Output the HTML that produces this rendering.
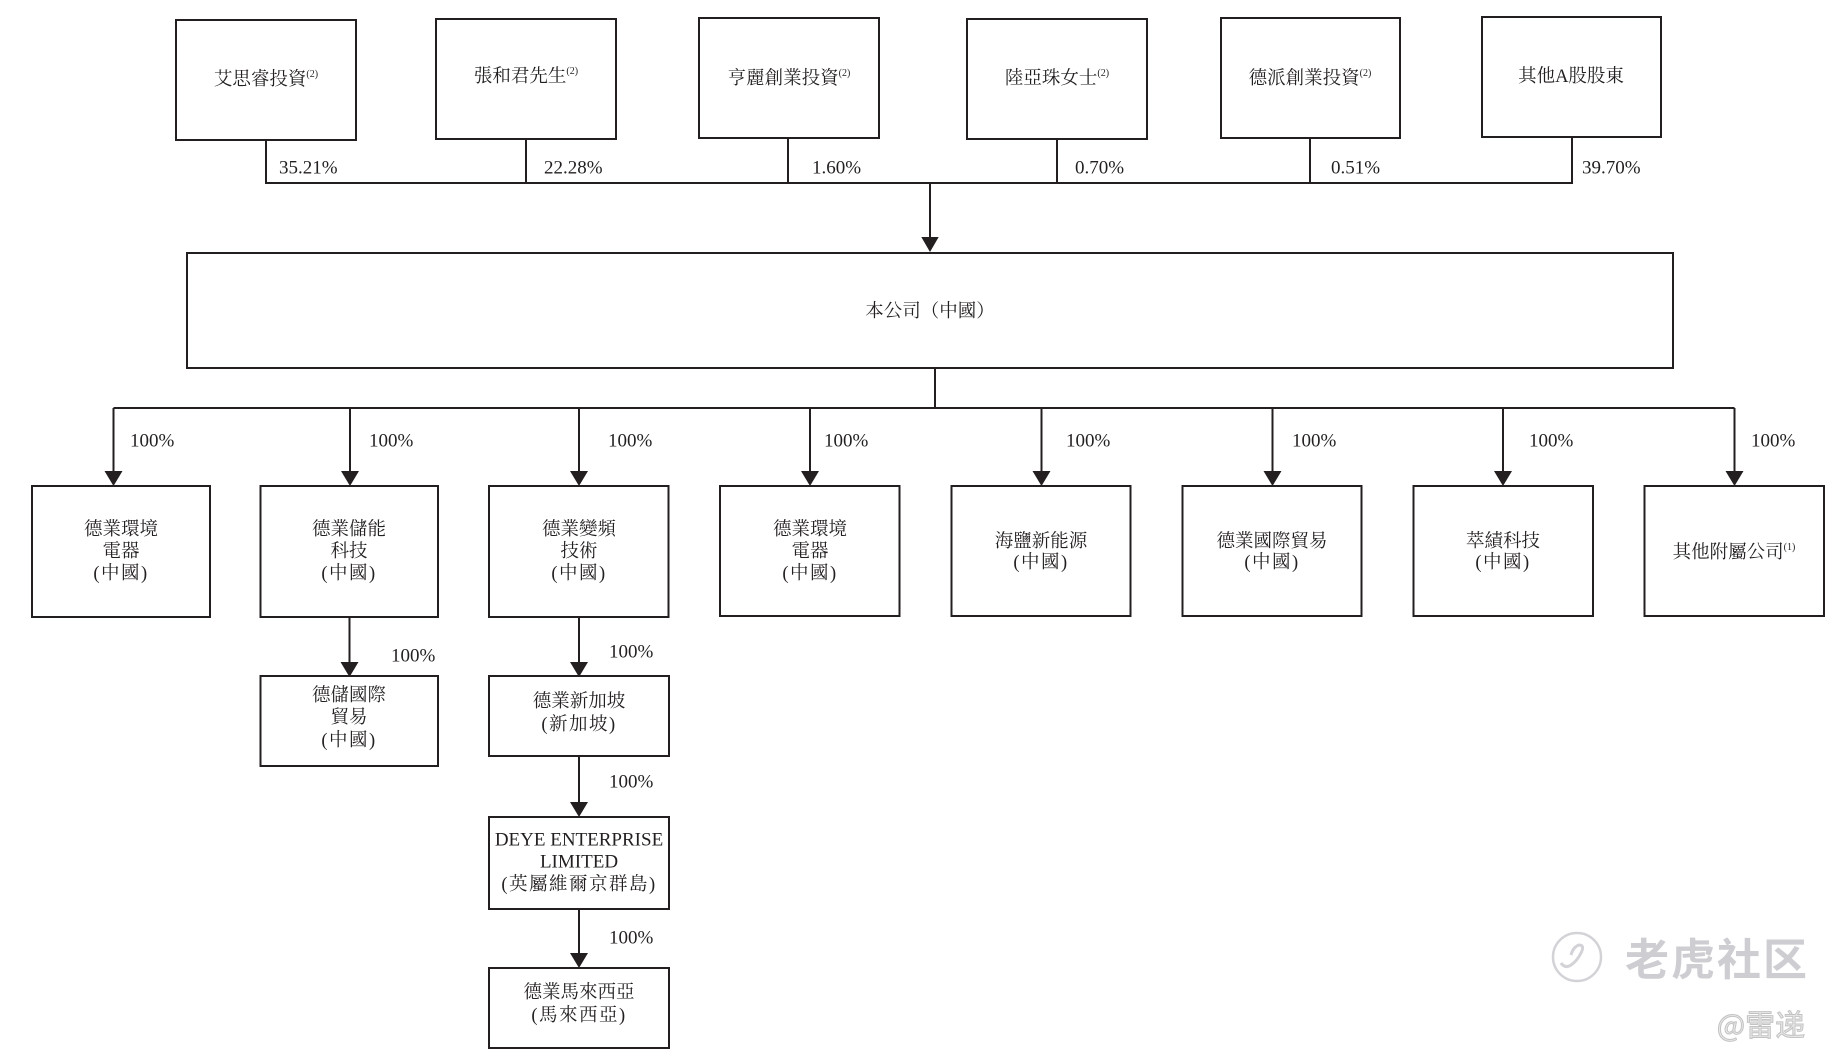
<!DOCTYPE html>
<html>
<head>
<meta charset="utf-8">
<style>
  html,body{margin:0;padding:0;background:#fff;}
  svg{display:block;}
  .t{font-family:"Liberation Serif","Noto Serif CJK SC",serif;fill:#231f20;font-size:18.5px;}
  .p{font-family:"Liberation Serif",serif;fill:#231f20;font-size:19px;}
  .par{letter-spacing:1.5px;}
</style>
</head>
<body>
<svg width="1844" height="1062" viewBox="0 0 1844 1062" xmlns="http://www.w3.org/2000/svg">
  <rect x="0" y="0" width="1844" height="1062" fill="#fff"/>
  <g fill="none" stroke="#231f20" stroke-width="2">
    <rect x="176" y="20" width="180" height="120"/>
    <rect x="436" y="19" width="180" height="120"/>
    <rect x="699" y="18" width="180" height="120"/>
    <rect x="967" y="19" width="180" height="120"/>
    <rect x="1221" y="18" width="179" height="120"/>
    <rect x="1482" y="17" width="179" height="120"/>
    <line x1="266" y1="140" x2="266" y2="183"/>
    <line x1="526" y1="139" x2="526" y2="183"/>
    <line x1="788" y1="138" x2="788" y2="183"/>
    <line x1="1057" y1="139" x2="1057" y2="183"/>
    <line x1="1310" y1="138" x2="1310" y2="183"/>
    <line x1="1572" y1="137" x2="1572" y2="183"/>
    <line x1="265" y1="183" x2="1573" y2="183"/>
    <line x1="930" y1="183" x2="930" y2="240"/>
    <rect x="187" y="253" width="1486" height="115"/>
    <line x1="935" y1="368" x2="935" y2="408"/>
    <line x1="113.5" y1="408" x2="1734.5" y2="408"/>
    <line x1="113.5" y1="408" x2="113.5" y2="474"/>
    <line x1="350" y1="408" x2="350" y2="474"/>
    <line x1="579" y1="408" x2="579" y2="474"/>
    <line x1="810" y1="408" x2="810" y2="474"/>
    <line x1="1041.5" y1="408" x2="1041.5" y2="474"/>
    <line x1="1272.5" y1="408" x2="1272.5" y2="474"/>
    <line x1="1503" y1="408" x2="1503" y2="474"/>
    <line x1="1734.5" y1="408" x2="1734.5" y2="474"/>
    <rect x="32" y="486" width="178" height="131"/>
    <rect x="260.5" y="486" width="177.5" height="131"/>
    <rect x="489" y="486" width="179.5" height="131"/>
    <rect x="720" y="486" width="179.5" height="130"/>
    <rect x="951.5" y="486" width="179" height="130"/>
    <rect x="1182.5" y="486" width="179" height="130"/>
    <rect x="1413.5" y="486" width="179.5" height="130"/>
    <rect x="1644.5" y="486" width="179.5" height="130"/>
    <line x1="349.5" y1="617" x2="349.5" y2="664"/>
    <rect x="260.5" y="676" width="177.5" height="90"/>
    <line x1="579" y1="617" x2="579" y2="664"/>
    <rect x="489" y="676" width="180" height="80"/>
    <line x1="579" y1="756" x2="579" y2="804"/>
    <rect x="489" y="817" width="180" height="92"/>
    <line x1="579" y1="909" x2="579" y2="956"/>
    <rect x="489" y="968" width="180" height="80"/>
  </g>
  <g fill="#231f20">
    <polygon points="921.3,237 938.7,237 930,252"/>
    <polygon points="104.5,471 122.5,471 113.5,486"/>
    <polygon points="341,471 359,471 350,486"/>
    <polygon points="570,471 588,471 579,486"/>
    <polygon points="801,471 819,471 810,486"/>
    <polygon points="1032.5,471 1050.5,471 1041.5,486"/>
    <polygon points="1263.5,471 1281.5,471 1272.5,486"/>
    <polygon points="1494,471 1512,471 1503,486"/>
    <polygon points="1725.5,471 1743.5,471 1734.5,486"/>
    <polygon points="340.5,662 358.5,662 349.5,677"/>
    <polygon points="570,662 588,662 579,677"/>
    <polygon points="570,802 588,802 579,817"/>
    <polygon points="570,953 588,953 579,968"/>
  </g>
  <g class="t" text-anchor="middle" dominant-baseline="central">
    <text x="266" y="80">艾思睿投資<tspan font-size="10" dy="-6">(2)</tspan></text>
    <text x="526" y="77">張和君先生<tspan font-size="10" dy="-6">(2)</tspan></text>
    <text x="789" y="79">亨麗創業投資<tspan font-size="10" dy="-6">(2)</tspan></text>
    <text x="1057" y="79">陸亞珠女士<tspan font-size="10" dy="-6">(2)</tspan></text>
    <text x="1310" y="79">德派創業投資<tspan font-size="10" dy="-6">(2)</tspan></text>
    <text x="1571" y="77">其他A股股東</text>
    <text x="930" y="312">本公司（中國）</text>
  </g>
  <g class="p" dominant-baseline="central">
    <text x="279" y="168">35.21%</text>
    <text x="544" y="168">22.28%</text>
    <text x="812" y="168">1.60%</text>
    <text x="1075" y="168">0.70%</text>
    <text x="1331" y="168">0.51%</text>
    <text x="1582" y="168">39.70%</text>
    <text x="130" y="441">100%</text>
    <text x="369" y="441">100%</text>
    <text x="608" y="441">100%</text>
    <text x="824" y="441">100%</text>
    <text x="1066" y="441">100%</text>
    <text x="1292" y="441">100%</text>
    <text x="1529" y="441">100%</text>
    <text x="1751" y="441">100%</text>
    <text x="391" y="656">100%</text>
    <text x="609" y="652">100%</text>
    <text x="609" y="782">100%</text>
    <text x="609" y="938">100%</text>
  </g>
  <g class="t" text-anchor="middle" dominant-baseline="central">
    <text x="121" y="530">德業環境</text>
    <text x="121" y="552">電器</text>
    <text class="par" x="121" y="574">(中國)</text>

    <text x="349" y="530">德業儲能</text>
    <text x="349" y="552">科技</text>
    <text class="par" x="349" y="574">(中國)</text>

    <text x="579" y="530">德業變頻</text>
    <text x="579" y="552">技術</text>
    <text class="par" x="579" y="574">(中國)</text>

    <text x="810" y="530">德業環境</text>
    <text x="810" y="552">電器</text>
    <text class="par" x="810" y="574">(中國)</text>

    <text x="1041" y="542">海鹽新能源</text>
    <text class="par" x="1041" y="563">(中國)</text>

    <text x="1272" y="542">德業國際貿易</text>
    <text class="par" x="1272" y="563">(中國)</text>

    <text x="1503" y="542">萃績科技</text>
    <text class="par" x="1503" y="563">(中國)</text>

    <text x="1734" y="553">其他附屬公司<tspan font-size="10" dy="-6">(1)</tspan></text>

    <text x="349" y="696">德儲國際</text>
    <text x="349" y="718">貿易</text>
    <text class="par" x="349" y="741">(中國)</text>

    <text x="579" y="702">德業新加坡</text>
    <text class="par" x="579" y="725">(新加坡)</text>

    <text x="579" y="840" font-size="19" font-family="Liberation Serif, serif">DEYE ENTERPRISE</text>
    <text x="579" y="862" font-size="19" font-family="Liberation Serif, serif">LIMITED</text>
    <text class="par" x="579" y="885">(英屬維爾京群島)</text>

    <text x="579" y="993">德業馬來西亞</text>
    <text class="par" x="579" y="1016">(馬來西亞)</text>
  </g>
  <g opacity="0.9">
    <circle cx="1577" cy="957" r="24" fill="none" stroke="#cfcfd3" stroke-width="2.5"/>
    <path d="M1561,963 q4,6 10,2 q6,-4 10,-12 q4,-8 -2,-8 q-6,2 -8,10" fill="none" stroke="#cfcfd3" stroke-width="3"/>
    <text x="1717" y="956" text-anchor="middle" dominant-baseline="central" font-family="Noto Sans CJK SC, sans-serif" font-weight="bold" font-size="44" fill="#c9c9ce" letter-spacing="2">老虎社区</text>
    <text x="1761" y="1023" text-anchor="middle" dominant-baseline="central" font-family="Noto Sans CJK SC, sans-serif" font-size="30" fill="#e6e6e6" stroke="#bdbdbd" stroke-width="1">@雷递</text>
  </g>
</svg>
</body>
</html>
